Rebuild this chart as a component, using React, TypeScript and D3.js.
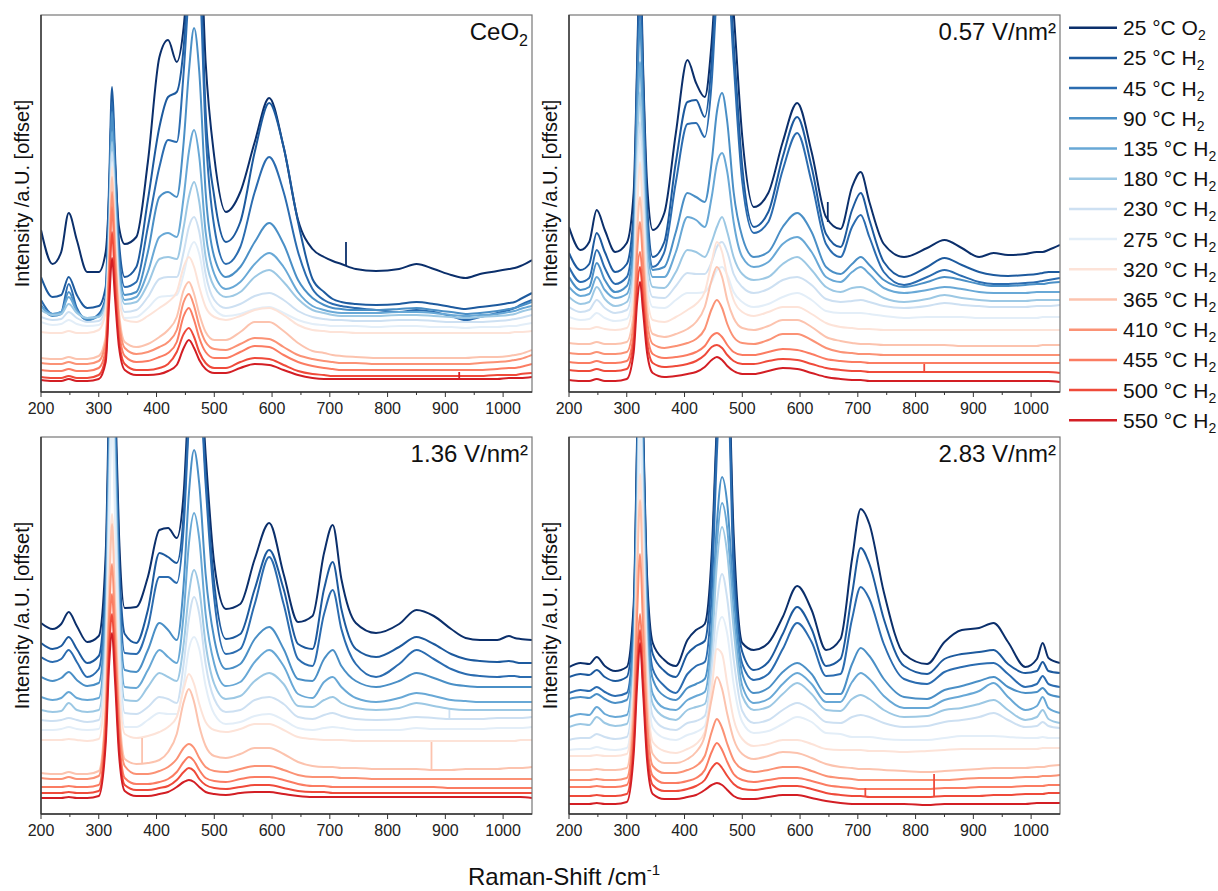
import { useEffect, useRef } from "react";
import * as d3 from "d3";

// Raman shift grid (cm-1) shared by every spectrum
const ramanShift = [
  200, 220, 235, 248, 262, 280, 300, 312, 318,
  323, 328, 335, 345, 365, 385, 405, 420, 435,
  447, 456, 465, 474, 485, 500, 520, 545, 570,
  595, 620, 645, 670, 690, 705, 720, 745, 780,
  820, 850, 880, 910, 935, 960, 990, 1010, 1020, 1030, 1050,
];

const legendTemps = ["25", "25", "45", "90", "135", "180", "230", "275", "320", "365", "410", "455", "500", "550"];
const legendGas = ["O", "H", "H", "H", "H", "H", "H", "H", "H", "H", "H", "H", "H", "H"];
const lineColors = [
  "#0b2f6b", "#1d5a9e", "#2b6cb0", "#4a8fc6", "#68a8d6", "#9cc8e4", "#cde0f2",
  "#e3eef8", "#fde3d8", "#fcc3ae", "#fb9275", "#fb7c62", "#ef4a3a", "#d31e24",
];

const xTicks = [200, 300, 400, 500, 600, 700, 800, 900, 1000];
const xMinorTicks = [250, 350, 450, 550, 650, 750, 850, 950];

// intensities (a.U., offset already included), one row per legend entry
const ceo2 = [
  [162, 128, 140, 179, 152, 120, 120, 140, 200, 290, 230, 165, 148, 155, 230, 335, 352, 330, 365, 430, 480, 470, 330, 235, 180, 200, 250, 294, 245, 172, 143, 135, 131, 128, 123, 121, 123, 128, 123, 117, 114, 118, 121, 123, 124, 126, 132],
  [115, 95, 97, 115, 97, 84, 86, 105, 210, 305, 240, 150, 115, 125, 192, 265, 295, 300, 345, 420, 480, 450, 280, 195, 150, 170, 240, 289, 245, 170, 113, 100, 93, 90, 88, 87, 88, 90, 88, 85, 83, 85, 87, 89, 90, 93, 99],
  [92, 78, 80, 108, 84, 72, 78, 95, 190, 290, 225, 140, 105, 110, 165, 225, 252, 250, 320, 400, 450, 420, 260, 165, 128, 145, 200, 235, 200, 140, 103, 92, 88, 86, 84, 82, 80, 82, 80, 76, 72, 75, 79, 82, 84, 87, 92],
  [87, 76, 78, 100, 82, 72, 76, 92, 180, 280, 215, 130, 97, 100, 140, 195, 200, 195, 250, 320, 364, 320, 200, 135, 115, 125, 150, 169, 148, 112, 94, 87, 84, 83, 82, 82, 83, 84, 82, 80, 78, 79, 81, 83, 84, 86, 90],
  [85, 78, 80, 95, 81, 74, 76, 90, 170, 260, 200, 120, 92, 95, 120, 155, 159, 155, 195, 240, 262, 235, 160, 118, 103, 110, 128, 139, 125, 100, 86, 82, 80, 79, 79, 79, 80, 80, 79, 77, 76, 77, 78, 80, 81, 83, 86],
  [82, 77, 78, 88, 79, 74, 75, 88, 160, 250, 190, 112, 88, 90, 108, 133, 135, 133, 165, 195, 210, 190, 135, 105, 95, 100, 115, 122, 110, 93, 82, 79, 77, 76, 76, 76, 77, 77, 76, 75, 74, 75, 76, 77, 78, 80, 83],
  [75, 72, 73, 80, 74, 70, 71, 84, 150, 240, 180, 105, 80, 82, 95, 113, 115, 115, 140, 165, 175, 160, 118, 92, 84, 88, 96, 99, 92, 81, 75, 73, 72, 72, 71, 71, 72, 72, 71, 70, 70, 70, 71, 72, 73, 74, 77],
  [70, 67, 68, 72, 68, 66, 67, 80, 140, 230, 170, 98, 74, 75, 84, 95, 96, 97, 118, 140, 150, 138, 104, 83, 76, 78, 83, 85, 79, 72, 68, 67, 66, 66, 66, 65, 66, 66, 65, 65, 64, 65, 65, 66, 66, 67, 69],
  [60, 59, 59, 61, 59, 59, 62, 80, 140, 225, 160, 95, 72, 70, 76, 84, 90, 100, 125, 135, 125, 105, 85, 75, 72, 76, 82, 84, 77, 67, 62, 61, 60, 60, 59, 59, 59, 59, 59, 59, 59, 59, 59, 59, 60, 60, 61],
  [34, 33, 33, 35, 33, 33, 36, 55, 130, 215, 150, 80, 50, 45, 48, 55, 62, 75, 102, 110, 98, 78, 60, 52, 52, 60, 70, 70, 61, 49, 41, 39, 37, 36, 35, 34, 34, 34, 34, 34, 34, 35, 35, 36, 37, 38, 42],
  [29, 28, 28, 30, 28, 28, 31, 50, 125, 200, 140, 72, 44, 38, 40, 45, 50, 62, 90, 98, 86, 66, 50, 43, 42, 48, 54, 53, 45, 37, 33, 31, 30, 29, 29, 28, 28, 28, 28, 28, 28, 29, 30, 31, 32, 33, 37],
  [22, 21, 21, 23, 21, 21, 24, 42, 115, 185, 125, 62, 36, 30, 31, 35, 39, 50, 76, 84, 72, 54, 40, 34, 34, 40, 46, 45, 37, 30, 26, 24, 23, 22, 22, 22, 22, 22, 22, 22, 22, 22, 23, 24, 24, 25, 28],
  [15, 14, 14, 16, 14, 14, 17, 35, 100, 160, 110, 52, 28, 22, 22, 24, 28, 40, 58, 64, 55, 40, 29, 24, 24, 30, 34, 33, 27, 21, 18, 17, 16, 16, 16, 16, 16, 16, 16, 16, 16, 16, 17, 17, 17, 18, 19],
  [12, 11, 11, 13, 11, 11, 13, 30, 90, 134, 95, 45, 22, 17, 17, 18, 21, 27, 44, 52, 44, 32, 23, 19, 19, 24, 28, 27, 22, 17, 14, 13, 13, 13, 13, 13, 13, 13, 13, 13, 13, 13, 13, 14, 14, 14, 15],
];

const field057 = [
  [165, 142, 150, 182, 162, 140, 149, 200, 330, 440, 330, 210, 162, 179, 259, 332, 309, 295, 350, 430, 480, 460, 380, 255, 185, 199, 250, 289, 240, 175, 163, 205, 220, 190, 148, 135, 144, 152, 144, 135, 139, 137, 138, 140, 140, 142, 147],
  [139, 122, 128, 159, 140, 120, 128, 180, 320, 420, 320, 190, 135, 150, 230, 290, 292, 275, 330, 420, 470, 450, 350, 225, 165, 180, 235, 275, 225, 158, 145, 182, 199, 172, 130, 115, 125, 134, 127, 120, 117, 116, 117, 118, 119, 120, 120],
  [125, 110, 114, 142, 124, 108, 115, 165, 310, 400, 305, 178, 125, 140, 210, 268, 269, 255, 310, 400, 450, 430, 330, 210, 159, 170, 222, 259, 210, 148, 135, 165, 177, 155, 120, 107, 115, 122, 116, 110, 108, 108, 109, 110, 111, 112, 114],
  [115, 102, 105, 129, 112, 100, 106, 150, 290, 370, 285, 165, 122, 125, 160, 199, 195, 190, 230, 280, 299, 270, 200, 155, 135, 140, 165, 179, 160, 125, 118, 128, 135, 127, 112, 105, 110, 115, 112, 108, 106, 106, 107, 108, 108, 109, 110],
  [105, 96, 98, 115, 102, 94, 98, 135, 260, 330, 255, 150, 115, 115, 140, 175, 172, 165, 195, 228, 239, 220, 170, 135, 125, 130, 148, 155, 140, 115, 110, 120, 125, 118, 104, 99, 102, 105, 103, 100, 99, 99, 99, 100, 100, 100, 100],
  [95, 88, 90, 105, 93, 86, 90, 125, 240, 300, 230, 135, 105, 104, 120, 142, 140, 135, 150, 165, 175, 160, 135, 118, 112, 115, 128, 135, 122, 105, 100, 104, 105, 102, 94, 90, 93, 97, 94, 92, 91, 91, 91, 92, 92, 92, 92],
  [85, 80, 82, 92, 84, 79, 82, 115, 220, 270, 210, 120, 95, 94, 106, 119, 118, 118, 130, 145, 150, 140, 118, 105, 99, 103, 112, 115, 107, 93, 90, 91, 92, 90, 86, 84, 86, 89, 87, 86, 85, 85, 85, 86, 86, 86, 87],
  [75, 72, 73, 79, 74, 71, 73, 105, 200, 250, 190, 108, 85, 84, 92, 99, 99, 100, 110, 122, 125, 117, 100, 90, 85, 88, 95, 99, 92, 81, 79, 79, 79, 78, 76, 74, 75, 75, 75, 74, 74, 74, 74, 74, 75, 75, 75],
  [64, 63, 63, 65, 63, 62, 64, 95, 180, 230, 170, 98, 72, 70, 75, 82, 88, 100, 130, 150, 140, 115, 92, 80, 76, 80, 85, 85, 78, 69, 65, 64, 63, 63, 62, 62, 62, 62, 62, 62, 62, 62, 62, 62, 62, 62, 62],
  [49, 48, 48, 50, 48, 48, 50, 80, 160, 195, 150, 85, 58, 55, 58, 63, 70, 85, 112, 125, 115, 92, 74, 64, 62, 66, 72, 72, 65, 55, 51, 49, 48, 48, 47, 47, 47, 47, 46, 46, 46, 46, 46, 46, 47, 47, 47],
  [39, 38, 38, 40, 38, 38, 40, 70, 140, 170, 130, 72, 48, 44, 46, 49, 53, 63, 83, 92, 84, 68, 55, 49, 48, 52, 58, 58, 52, 44, 40, 39, 38, 38, 37, 37, 37, 37, 37, 37, 37, 37, 37, 37, 37, 37, 37],
  [30, 29, 29, 31, 29, 29, 31, 58, 120, 140, 110, 60, 38, 34, 35, 37, 40, 46, 56, 59, 55, 47, 40, 37, 37, 40, 43, 42, 38, 33, 31, 30, 30, 29, 29, 29, 29, 29, 29, 29, 29, 29, 29, 29, 29, 29, 29],
  [22, 21, 21, 23, 21, 21, 23, 50, 105, 125, 95, 50, 29, 25, 26, 28, 31, 37, 45, 47, 44, 37, 31, 28, 28, 31, 33, 32, 28, 24, 22, 21, 21, 20, 20, 20, 20, 20, 20, 20, 20, 20, 20, 20, 20, 20, 19],
  [12, 11, 11, 13, 11, 11, 13, 40, 90, 110, 82, 40, 19, 15, 16, 18, 20, 25, 32, 35, 32, 26, 21, 18, 18, 21, 24, 23, 19, 15, 13, 12, 12, 11, 11, 11, 11, 11, 11, 11, 11, 11, 11, 11, 11, 11, 10],
];

const field136 = [
  [191, 185, 190, 202, 188, 172, 178, 260, 420, 520, 430, 280, 206, 207, 237, 284, 286, 276, 321, 420, 480, 460, 360, 250, 205, 210, 255, 291, 240, 192, 198, 261, 289, 235, 191, 181, 190, 204, 198, 185, 176, 174, 174, 178, 176, 175, 174],
  [171, 165, 168, 177, 165, 151, 158, 240, 400, 510, 410, 260, 180, 171, 204, 261, 257, 251, 300, 400, 470, 450, 340, 230, 175, 180, 225, 264, 225, 170, 165, 225, 252, 205, 165, 157, 167, 177, 170, 160, 155, 153, 152, 153, 152, 151, 151],
  [157, 152, 155, 164, 152, 137, 145, 225, 390, 500, 400, 245, 161, 160, 187, 237, 237, 231, 287, 390, 460, 440, 330, 215, 160, 165, 210, 257, 210, 155, 148, 200, 224, 185, 150, 137, 150, 164, 155, 145, 140, 138, 137, 138, 138, 137, 137],
  [137, 133, 136, 142, 134, 128, 131, 210, 370, 480, 380, 225, 144, 142, 164, 191, 184, 174, 230, 320, 364, 330, 240, 175, 145, 150, 175, 187, 165, 135, 133, 155, 164, 148, 133, 127, 133, 141, 136, 130, 128, 127, 127, 127, 127, 127, 127],
  [117, 114, 116, 122, 116, 114, 116, 195, 350, 460, 360, 210, 127, 126, 144, 164, 157, 151, 200, 270, 301, 275, 200, 150, 128, 132, 152, 164, 148, 120, 116, 132, 137, 127, 116, 112, 116, 121, 118, 114, 113, 112, 112, 112, 112, 112, 112],
  [104, 102, 103, 111, 104, 102, 104, 180, 330, 440, 340, 195, 114, 113, 127, 141, 137, 133, 170, 220, 244, 225, 170, 130, 115, 118, 133, 141, 130, 108, 107, 114, 117, 111, 106, 104, 106, 111, 108, 105, 104, 104, 104, 104, 104, 104, 104],
  [94, 93, 94, 96, 94, 92, 94, 165, 310, 420, 320, 180, 101, 100, 107, 117, 115, 111, 150, 195, 217, 200, 150, 115, 102, 104, 114, 117, 110, 97, 95, 99, 101, 98, 95, 94, 95, 97, 96, 95, 95, 95, 96, 96, 96, 96, 97],
  [84, 84, 85, 87, 85, 84, 85, 150, 290, 400, 300, 165, 87, 87, 94, 101, 100, 100, 130, 165, 177, 165, 128, 100, 90, 92, 98, 100, 94, 86, 84, 86, 87, 86, 84, 84, 84, 86, 85, 85, 85, 85, 86, 86, 86, 86, 87],
  [74, 74, 74, 75, 74, 73, 75, 140, 240, 300, 230, 130, 80, 76, 78, 82, 87, 97, 125, 140, 130, 110, 92, 84, 82, 85, 90, 90, 84, 77, 75, 74, 74, 74, 73, 73, 73, 73, 73, 73, 73, 73, 73, 73, 73, 74, 74],
  [41, 40, 40, 42, 40, 40, 43, 110, 220, 290, 210, 110, 55, 50, 51, 54, 62, 80, 112, 125, 112, 88, 68, 58, 56, 60, 66, 66, 60, 52, 48, 47, 47, 46, 46, 45, 45, 45, 44, 44, 45, 45, 45, 46, 46, 46, 47],
  [36, 35, 35, 37, 35, 35, 38, 100, 200, 250, 185, 95, 48, 40, 40, 43, 47, 55, 66, 70, 66, 56, 47, 43, 42, 45, 48, 48, 44, 39, 37, 37, 37, 36, 36, 35, 35, 35, 35, 35, 35, 35, 35, 35, 35, 35, 35],
  [27, 27, 27, 28, 27, 27, 29, 90, 180, 220, 165, 80, 36, 30, 30, 32, 35, 42, 52, 57, 53, 44, 36, 33, 32, 35, 37, 37, 34, 30, 28, 28, 27, 27, 27, 27, 27, 27, 27, 26, 26, 26, 26, 26, 26, 26, 26],
  [21, 21, 21, 22, 21, 21, 23, 80, 165, 200, 150, 70, 29, 24, 24, 26, 28, 34, 42, 46, 43, 35, 29, 26, 25, 27, 29, 29, 26, 23, 22, 22, 21, 21, 21, 21, 21, 21, 21, 21, 21, 21, 21, 21, 21, 21, 21],
  [16, 16, 16, 17, 16, 16, 18, 70, 150, 181, 135, 60, 23, 18, 18, 20, 22, 27, 32, 34, 32, 27, 22, 20, 19, 21, 22, 22, 20, 18, 17, 17, 17, 17, 17, 17, 17, 17, 17, 17, 17, 17, 17, 17, 17, 17, 16],
];

const field283 = [
  [147, 151, 150, 157, 148, 143, 147, 210, 380, 520, 400, 240, 171, 154, 148, 174, 184, 190, 260, 390, 480, 470, 280, 171, 164, 171, 197, 228, 204, 164, 175, 255, 305, 290, 222, 160, 150, 172, 184, 186, 191, 172, 147, 155, 171, 156, 151],
  [137, 140, 139, 144, 137, 133, 137, 200, 370, 510, 390, 230, 160, 143, 137, 160, 168, 173, 245, 380, 470, 460, 260, 162, 144, 152, 180, 207, 185, 148, 155, 220, 266, 250, 195, 148, 140, 155, 160, 162, 164, 150, 141, 143, 152, 143, 141],
  [121, 124, 123, 127, 122, 118, 121, 185, 350, 500, 380, 215, 145, 128, 121, 140, 148, 152, 220, 360, 450, 440, 240, 150, 134, 140, 165, 191, 172, 138, 140, 195, 227, 215, 170, 135, 130, 142, 147, 150, 151, 140, 127, 130, 138, 130, 127],
  [115, 117, 116, 120, 115, 111, 114, 175, 330, 480, 360, 200, 135, 118, 114, 126, 130, 135, 190, 290, 337, 310, 220, 140, 121, 126, 142, 151, 140, 120, 120, 150, 166, 158, 135, 117, 115, 124, 128, 133, 137, 127, 121, 122, 126, 120, 117],
  [97, 100, 99, 107, 100, 97, 99, 160, 310, 460, 340, 185, 120, 106, 104, 114, 118, 122, 175, 270, 311, 285, 200, 128, 111, 115, 130, 141, 130, 112, 112, 132, 141, 135, 118, 106, 106, 114, 118, 123, 131, 117, 104, 108, 117, 106, 101],
  [87, 90, 89, 97, 91, 88, 90, 150, 290, 440, 320, 170, 110, 97, 94, 104, 107, 110, 160, 250, 287, 260, 185, 118, 104, 107, 120, 131, 120, 104, 103, 115, 119, 115, 104, 97, 98, 104, 106, 110, 114, 104, 94, 97, 104, 95, 91],
  [74, 76, 76, 80, 77, 75, 77, 140, 270, 420, 300, 160, 98, 86, 84, 91, 93, 98, 145, 210, 240, 215, 155, 103, 91, 94, 104, 111, 104, 92, 91, 97, 99, 97, 91, 87, 88, 92, 94, 97, 101, 94, 87, 88, 92, 88, 86],
  [64, 65, 65, 67, 65, 64, 66, 130, 250, 400, 280, 150, 86, 76, 74, 79, 82, 88, 130, 180, 197, 180, 130, 92, 81, 83, 90, 97, 92, 81, 80, 77, 77, 77, 75, 74, 74, 76, 78, 78, 78, 77, 76, 76, 77, 76, 76],
  [58, 58, 58, 59, 58, 58, 60, 130, 260, 340, 250, 130, 72, 63, 61, 65, 70, 82, 125, 165, 160, 130, 95, 75, 68, 70, 74, 74, 70, 65, 64, 64, 64, 63, 63, 62, 63, 64, 65, 65, 65, 65, 65, 65, 66, 66, 66],
  [44, 44, 44, 45, 44, 44, 46, 115, 240, 314, 230, 115, 60, 51, 51, 55, 62, 78, 115, 137, 125, 100, 75, 60, 55, 58, 62, 61, 56, 50, 47, 46, 45, 45, 44, 43, 42, 43, 44, 45, 46, 46, 46, 47, 47, 48, 49],
  [34, 34, 34, 35, 34, 34, 36, 95, 200, 260, 190, 95, 48, 41, 41, 44, 48, 58, 82, 95, 86, 70, 54, 45, 42, 44, 47, 47, 43, 38, 36, 35, 34, 34, 34, 34, 34, 34, 35, 36, 36, 36, 37, 37, 38, 38, 39],
  [27, 27, 27, 28, 27, 27, 29, 80, 160, 200, 150, 75, 38, 31, 31, 33, 36, 44, 62, 71, 64, 52, 40, 34, 32, 34, 36, 36, 33, 29, 27, 26, 25, 25, 25, 25, 25, 26, 26, 27, 27, 27, 28, 28, 28, 29, 29],
  [18, 18, 18, 19, 18, 18, 20, 70, 145, 184, 135, 65, 29, 23, 23, 25, 28, 34, 46, 51, 46, 38, 30, 25, 24, 26, 28, 28, 25, 21, 19, 18, 18, 17, 17, 17, 17, 18, 18, 18, 19, 19, 20, 20, 20, 21, 21],
  [10, 10, 10, 11, 10, 10, 12, 60, 130, 171, 125, 55, 20, 15, 15, 17, 19, 24, 29, 31, 29, 24, 18, 15, 15, 17, 19, 19, 16, 13, 11, 10, 10, 10, 10, 10, 9, 10, 10, 10, 10, 10, 10, 11, 11, 11, 11],
];

// cosmic-ray spikes: [panel, series, shift, from, to]
const spikes = [
  [0, 0, 728, 126, 150],
  [0, 13, 924, 13, 20],
  [1, 0, 648, 170, 190],
  [1, 12, 815, 20, 28],
  [2, 9, 375, 50, 76],
  [2, 9, 876, 44, 72],
  [2, 6, 907, 95, 104],
  [3, 12, 713, 17, 26],
  [3, 12, 832, 18, 40],
];

const panels = [
  { data: ceo2, title: "CeO", sub: "2", left: 41, top: 15 },
  { data: field057, title: "0.57 V/nm²", sub: "", left: 569, top: 15 },
  { data: field136, title: "1.36 V/nm²", sub: "", left: 41, top: 437 },
  { data: field283, title: "2.83 V/nm²", sub: "", left: 569, top: 437 },
];

const W = 1218;
const H = 891;
const PW = 491;
const PH = 377;
const FONT = "'Liberation Sans', Arial, sans-serif";

export default function App() {
  const svgRef = useRef<SVGSVGElement>(null);

  useEffect(() => {
    const svg = d3.select(svgRef.current);
    svg.selectAll("*").remove();

    const x = d3.scaleLinear().domain([200, 1050]).range([0, PW]);
    const y = d3.scaleLinear().domain([0, 377]).range([PH, 0]);
    const line = d3
      .line<number>()
      .x((_, i) => x(ramanShift[i]))
      .y((d) => y(d))
      .curve(d3.curveMonotoneX);

    panels.forEach((p, pi) => {
      const g = svg.append("g").attr("transform", `translate(${p.left},${p.top})`);
      g.append("clipPath").attr("id", `clip${pi}`).append("rect").attr("width", PW).attr("height", PH);
      const plot = g.append("g").attr("clip-path", `url(#clip${pi})`);

      p.data.forEach((s, si) => {
        plot
          .append("path")
          .attr("d", line(s))
          .attr("fill", "none")
          .attr("stroke", lineColors[si])
          .attr("stroke-width", 2)
          .attr("stroke-linejoin", "round");
      });

      spikes
        .filter((s) => s[0] === pi)
        .forEach((s) => {
          plot
            .append("line")
            .attr("x1", x(s[2]))
            .attr("x2", x(s[2]))
            .attr("y1", y(s[3]))
            .attr("y2", y(s[4]))
            .attr("stroke", lineColors[s[1]])
            .attr("stroke-width", 1.8);
        });

      // frame + axes
      g.append("rect").attr("width", PW).attr("height", PH).attr("fill", "none").attr("stroke", "#777").attr("stroke-width", 1.2);
      g.append("line").attr("x1", 0).attr("x2", PW).attr("y1", PH).attr("y2", PH).attr("stroke", "#333").attr("stroke-width", 1.4);
      g.append("line").attr("x1", 0).attr("x2", 0).attr("y1", 0).attr("y2", PH).attr("stroke", "#333").attr("stroke-width", 1.4);

      g.selectAll(".tick")
        .data(xTicks)
        .join("line")
        .attr("x1", (d) => x(d))
        .attr("x2", (d) => x(d))
        .attr("y1", PH)
        .attr("y2", PH + 5)
        .attr("stroke", "#333");
      g.selectAll(".minor")
        .data(xMinorTicks)
        .join("line")
        .attr("x1", (d) => x(d))
        .attr("x2", (d) => x(d))
        .attr("y1", PH)
        .attr("y2", PH + 3)
        .attr("stroke", "#333");
      g.selectAll(".tl")
        .data(xTicks)
        .join("text")
        .attr("x", (d) => x(d))
        .attr("y", PH + 22)
        .attr("text-anchor", "middle")
        .attr("font-size", 16)
        .attr("fill", "#222")
        .text((d) => d);

      g.append("text")
        .attr("transform", `translate(-12,${PH / 2 - 10}) rotate(-90)`)
        .attr("text-anchor", "middle")
        .attr("font-size", 20)
        .attr("fill", "#111")
        .text("Intensity /a.U. [offset]");

      const t = g
        .append("text")
        .attr("x", PW - 4)
        .attr("y", 25)
        .attr("text-anchor", "end")
        .attr("font-size", 24)
        .attr("fill", "#111")
        .text(p.title);
      if (p.sub) t.append("tspan").attr("dy", 6).attr("font-size", 16).text(p.sub);
    });

    // legend
    const lg = svg.append("g");
    legendTemps.forEach((tmp, i) => {
      const ly = 27.7 + i * 30.2;
      lg.append("line").attr("x1", 1069).attr("x2", 1117).attr("y1", ly).attr("y2", ly).attr("stroke", lineColors[i]).attr("stroke-width", 2.5);
      const tx = lg
        .append("text")
        .attr("x", 1123)
        .attr("y", ly + 7.5)
        .attr("font-size", 21)
        .attr("fill", "#111")
        .text(`${tmp} °C ${legendGas[i]}`);
      tx.append("tspan").attr("dy", 5).attr("font-size", 14).text("2");
    });

    const xt = svg
      .append("text")
      .attr("x", 564)
      .attr("y", 885)
      .attr("text-anchor", "middle")
      .attr("font-size", 24)
      .attr("fill", "#111")
      .text("Raman-Shift /cm");
    xt.append("tspan").attr("dy", -10).attr("font-size", 15).text("-1");
  }, []);

  return (
    <svg
      ref={svgRef}
      width={W}
      height={H}
      fontFamily={FONT}
      style={{ position: "absolute", left: 0, top: 0, background: "#fff" }}
    />
  );
}
